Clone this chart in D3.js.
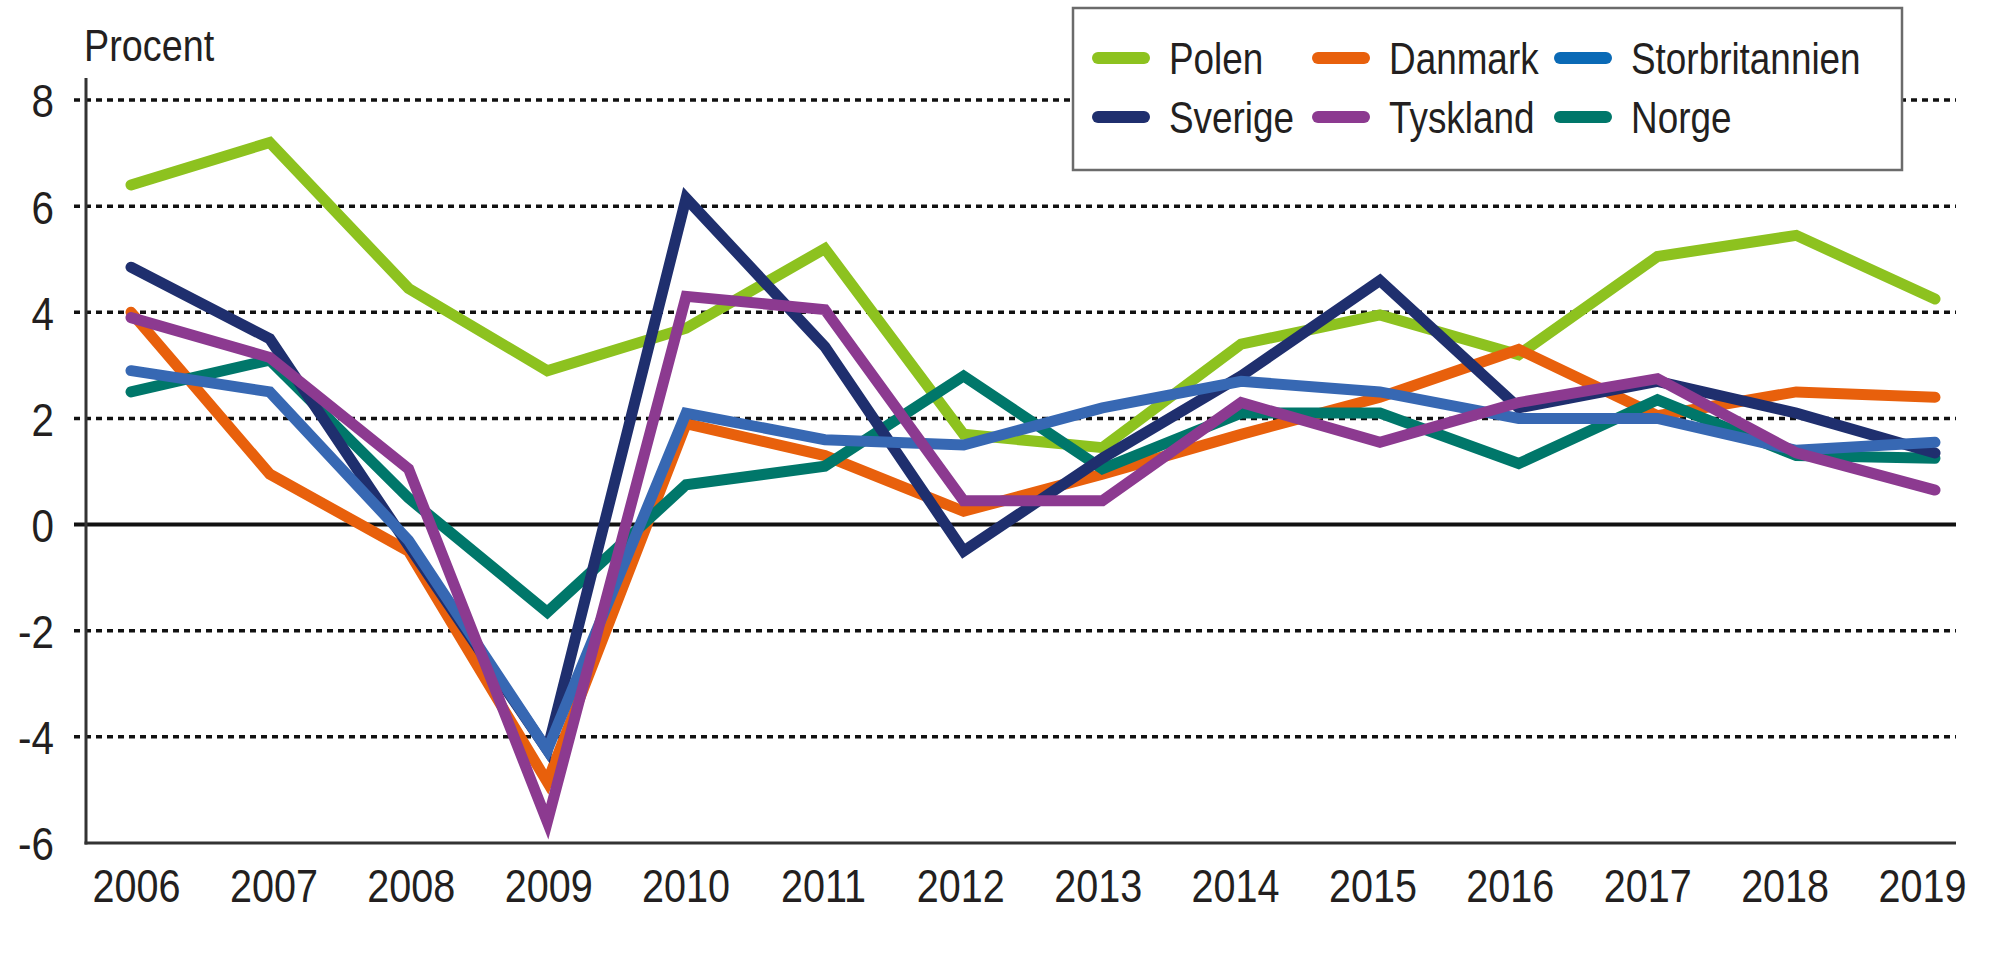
<!DOCTYPE html>
<html>
<head>
<meta charset="utf-8">
<script src="https://cdn.jsdelivr.net/npm/d3@7"></script>
<style>
  html, body { margin: 0; padding: 0; background: #fff; }
  svg { display: block; }
  text { font-family: "Liberation Sans", Arial, sans-serif; fill: #231f20; }
</style>
</head>
<body>
<svg id="chart" width="2000" height="960"></svg>
<script>
const years = [2006, 2007, 2008, 2009, 2010, 2011, 2012, 2013, 2014, 2015, 2016, 2017, 2018, 2019];
const yTicks = [-6, -4, -2, 0, 2, 4, 6, 8];
const gridValues = [-4, -2, 2, 4, 6, 8];

const polen          = [6.4, 7.2, 4.45, 2.9, 3.7, 5.2, 1.7, 1.45, 3.4, 3.95, 3.2, 5.05, 5.45, 4.25];
const sverige        = [4.85, 3.5, -0.4, -4.25, 6.15, 3.35, -0.5, 1.25, 2.8, 4.6, 2.2, 2.7, 2.1, 1.35];
const danmark        = [4.0, 0.95, -0.5, -4.85, 1.9, 1.3, 0.25, 0.95, 1.7, 2.4, 3.3, 2.05, 2.5, 2.4];
const tyskland       = [3.9, 3.15, 1.05, -5.6, 4.3, 4.05, 0.45, 0.45, 2.3, 1.55, 2.3, 2.75, 1.35, 0.65];
const storbritannien = [2.9, 2.5, -0.3, -4.25, 2.1, 1.6, 1.5, 2.2, 2.7, 2.5, 2.0, 2.0, 1.4, 1.55];
const norge          = [2.5, 3.1, 0.5, -1.65, 0.75, 1.1, 2.8, 1.05, 2.1, 2.1, 1.15, 2.35, 1.3, 1.25];

const seriesNames  = ["Polen", "Danmark", "Storbritannien", "Sverige", "Tyskland", "Norge"];
const seriesValues = [polen, danmark, storbritannien, sverige, tyskland, norge];
const seriesColors = ["#8dc21f", "#e8600c", "#3768b3", "#1f2f6e", "#8c3a90", "#00776a"];
const drawOrder    = ["Polen", "Danmark", "Norge", "Sverige", "Storbritannien", "Tyskland"];
const legendSwatchColors = ["#8dc21f", "#e8600c", "#0a6ab6", "#1f2f6e", "#8c3a90", "#00776a"];

const NARROW = 0.82;      // horizontal condensing of the text face
const NARROW_TICK = 0.86;

const svg = d3.select("#chart");

const x = d3.scalePoint().domain(years).range([131, 1935]);
const xLabel = d3.scalePoint().domain(years).range([136, 1922]);
const y = d3.scaleLinear().domain([-6, 8]).range([843, 100]);

const plotLeft = 86, plotRight = 1956, gridLeft = 74;

// gridlines
svg.append("g").selectAll("line").data(gridValues).join("line")
  .attr("x1", gridLeft).attr("x2", plotRight)
  .attr("y1", d => y(d)).attr("y2", d => y(d))
  .attr("stroke", "#111").attr("stroke-width", 3.5)
  .attr("stroke-dasharray", "6,5");

// zero line
svg.append("line")
  .attr("x1", gridLeft).attr("x2", plotRight)
  .attr("y1", y(0)).attr("y2", y(0))
  .attr("stroke", "#111").attr("stroke-width", 4);

// y axis
const yAxis = d3.axisLeft(y).tickValues(yTicks).tickSize(0).tickPadding(0).tickFormat(d => String(d));
const gy = svg.append("g").attr("transform", `translate(54,0)`).call(yAxis);
gy.select(".domain").remove();
gy.selectAll("text").attr("font-size", 47).attr("dy", "0.36em").attr("x", 0)
  .attr("transform", `scale(${NARROW_TICK},1)`)
  .style("font-family", '"Liberation Sans", Arial, sans-serif').attr("fill", "#231f20");

svg.append("line")
  .attr("x1", plotLeft).attr("x2", plotLeft)
  .attr("y1", 78).attr("y2", y(-6) + 1.5)
  .attr("stroke", "#333").attr("stroke-width", 3);

// x axis
svg.append("line")
  .attr("x1", plotLeft - 1.5).attr("x2", plotRight)
  .attr("y1", y(-6)).attr("y2", y(-6))
  .attr("stroke", "#333").attr("stroke-width", 3);

const xAxis = d3.axisBottom(xLabel).tickSize(0).tickPadding(0).tickFormat(d => String(d));
const gx = svg.append("g").attr("transform", `translate(0,885)`).call(xAxis);
gx.select(".domain").remove();
gx.selectAll("text").attr("font-size", 46).attr("dy", "0.36em").attr("y", 0)
  .attr("transform", `scale(${NARROW_TICK},1)`)
  .style("font-family", '"Liberation Sans", Arial, sans-serif').attr("fill", "#231f20");

// axis title
svg.append("g").attr("transform", "translate(84,61)")
  .append("text").attr("font-size", 45).attr("transform", `scale(${NARROW + 0.02},1)`).text("Procent");

// lines
const line = d3.line().x((d, i) => x(years[i])).y(d => y(d));
const lg = svg.append("g");
drawOrder.forEach(name => {
  const idx = seriesNames.indexOf(name);
  lg.append("path")
    .datum(seriesValues[idx])
    .attr("d", line)
    .attr("fill", "none")
    .attr("stroke", seriesColors[idx])
    .attr("stroke-width", 11)
    .attr("stroke-linejoin", "miter")
    .attr("stroke-miterlimit", 4)
    .attr("stroke-linecap", "round");
});

// legend
const legend = svg.append("g");
legend.append("rect")
  .attr("x", 1073).attr("y", 8).attr("width", 829).attr("height", 162)
  .attr("fill", "#fff").attr("stroke", "#6b6b6b").attr("stroke-width", 2.5);

const legendOrder = ["Polen", "Danmark", "Storbritannien", "Sverige", "Tyskland", "Norge"];
const colX = [1092, 1312, 1554];
const rowY = [58, 117];
legendOrder.forEach((name, k) => {
  const idx = seriesNames.indexOf(name);
  const cx = colX[k % 3], cy = rowY[Math.floor(k / 3)];
  legend.append("line")
    .attr("x1", cx + 6).attr("x2", cx + 52)
    .attr("y1", cy).attr("y2", cy)
    .attr("stroke", legendSwatchColors[idx]).attr("stroke-width", 12)
    .attr("stroke-linecap", "round");
  legend.append("g").attr("transform", `translate(${cx + 77},${cy})`)
    .append("text").attr("dy", "0.36em")
    .attr("transform", `scale(${NARROW},1)`)
    .attr("font-size", 45).text(name);
});
</script>
</body>
</html>
